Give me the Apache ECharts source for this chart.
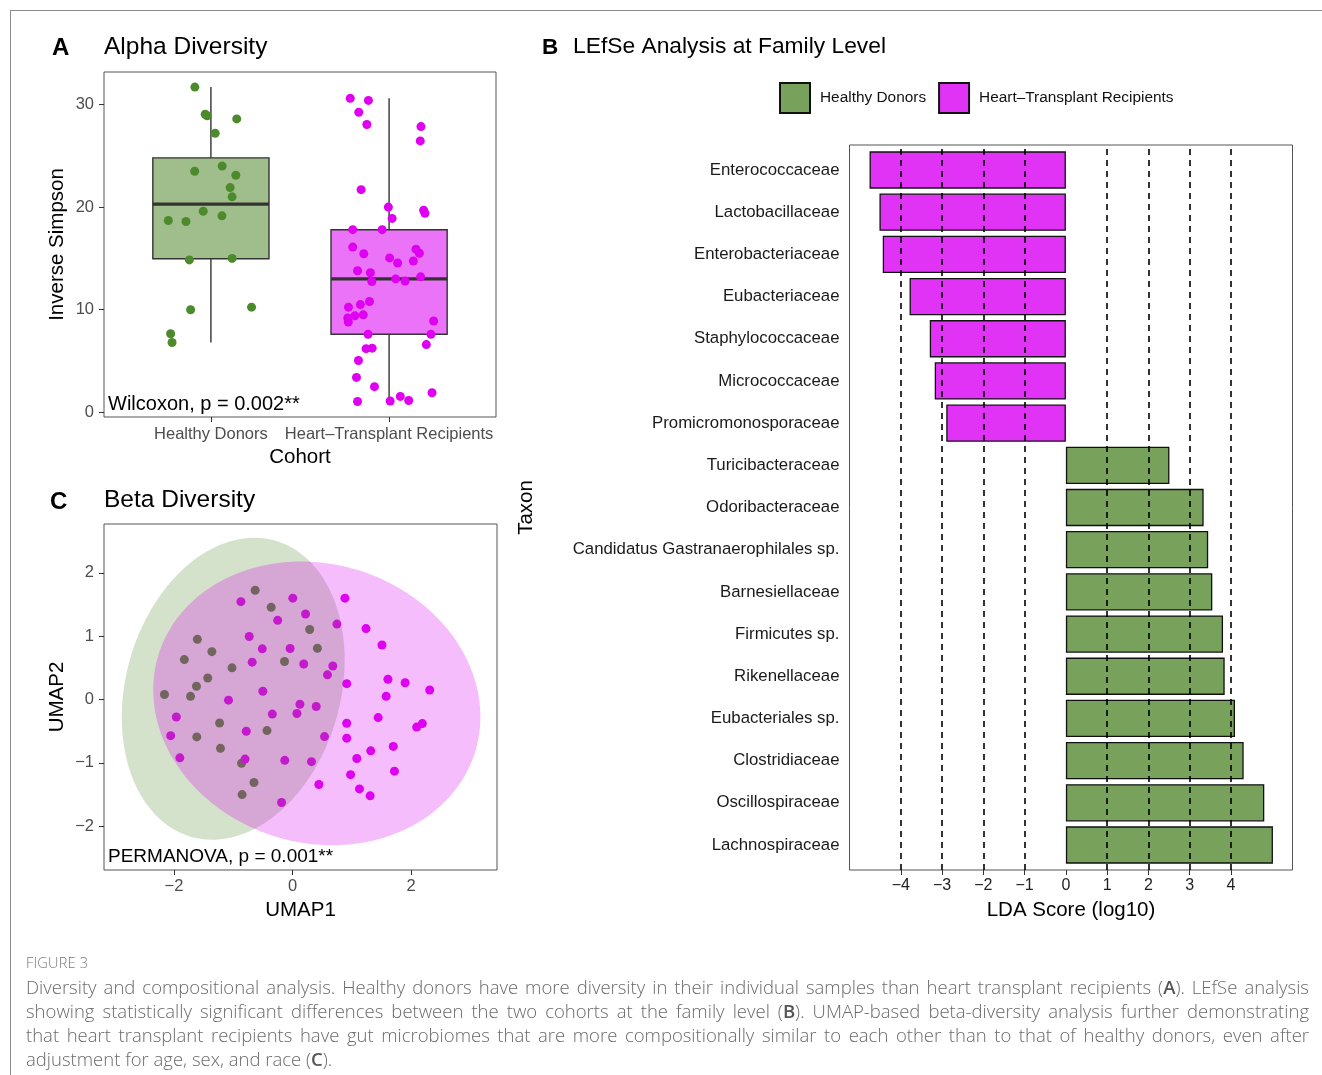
<!DOCTYPE html>
<html>
<head>
<meta charset="utf-8">
<script src="https://cdn.jsdelivr.net/npm/echarts@6/dist/echarts.min.js"></script>
<style>
html,body{margin:0;padding:0;background:#fff;width:1322px;height:1075px;overflow:hidden;}
#frame{position:absolute;left:10px;top:10px;width:1312px;height:1065px;border-top:1px solid #8c8c8c;border-left:1px solid #8c8c8c;box-sizing:border-box;}
#chart{position:absolute;left:0;top:0;width:1322px;height:1075px;}
#caption{position:absolute;left:26px;top:951px;width:1283px;font-family:'Open Sans',sans-serif;color:#6a6a6a;font-weight:300;}
#caption .fig{height:24px;line-height:24px;font-size:14.5px;letter-spacing:0.2px;color:#777;}
#caption .ln{height:24px;line-height:24px;font-size:18.5px;}
#caption .j{text-align:justify;text-align-last:justify;}
#caption b{font-weight:600;color:#555;}
</style>
</head>
<body>
<div id="frame"></div>
<div id="chart"></div>
<div id="caption">
<div class="fig">FIGURE 3</div>
<div class="ln j">Diversity and compositional analysis. Healthy donors have more diversity in their individual samples than heart transplant recipients (<b>A</b>). LEfSe analysis</div>
<div class="ln j">showing statistically significant differences between the two cohorts at the family level (<b>B</b>). UMAP-based beta-diversity analysis further demonstrating</div>
<div class="ln j">that heart transplant recipients have gut microbiomes that are more compositionally similar to each other than to that of healthy donors, even after</div>
<div class="ln">adjustment for age, sex, and race (<b>C</b>).</div>
</div>
<script>
// ---------------- DATA ----------------
const cohorts = ['Healthy Donors', 'Heart–Transplant Recipients'];

// Panel A: Inverse Simpson per sample, with horizontal jitter (category units)
const hdInvSimpson = [31.7, 29.05, 28.9, 28.6, 27.2, 23.5, 24.0, 23.1, 21.9, 21.0, 19.6, 19.15, 18.7, 18.6, 14.85, 15.0, 10.0, 10.25, 7.65, 6.8];
const hdJitter = [-0.090, -0.032, -0.021, 0.145, 0.024, -0.091, 0.063, 0.140, 0.108, 0.119, -0.043, 0.062, -0.239, -0.140, -0.121, 0.119, -0.114, 0.228, -0.226, -0.218];
const htrInvSimpson = [30.6, 30.4, 29.25, 28.05, 27.85, 26.45, 21.7, 20.0, 18.9, 19.7, 19.4, 17.8, 17.8, 16.1, 15.45, 15.9, 15.5, 15.05, 14.55, 14.75, 13.8, 13.6, 12.75, 13.0, 12.8, 13.2, 10.8, 10.5, 10.25, 9.2, 9.4, 9.5, 8.8, 8.9, 7.6, 7.6, 6.6, 6.2, 6.25, 5.05, 3.4, 2.5, 1.9, 1.05, 1.1, 1.55, 1.15];
const htrJitter = [-0.218, -0.116, -0.170, -0.125, 0.179, 0.175, -0.157, -0.004, 0.017, 0.194, 0.201, -0.204, -0.039, -0.204, -0.142, 0.151, 0.170, 0.003, 0.048, 0.136, -0.177, -0.105, -0.097, 0.037, 0.090, 0.177, -0.110, -0.161, -0.228, -0.232, -0.192, -0.145, -0.229, 0.250, -0.118, 0.235, 0.209, -0.129, -0.095, -0.172, -0.183, -0.082, 0.241, -0.177, 0.006, 0.063, 0.110];
const alphaTicks = [0, 10, 20, 30];

// Panel C: UMAP coordinates
const hdUmap1 = [-0.63, -0.36, 0.29, -1.605, -1.36, 0.42, -1.825, -1.02, -0.135, -1.43, -1.62, -2.16, -1.72, -1.23, -0.43, -1.615, -1.215, -0.86, -0.65, -0.85];
const hdUmap2 = [1.725, 1.455, 1.105, 0.95, 0.755, 0.81, 0.63, 0.50, 0.60, 0.34, 0.21, 0.08, 0.05, -0.37, -0.49, -0.59, -0.77, -1.005, -1.31, -1.50];
const htrUmap1 = [-0.87, 0.005, 0.885, 0.22, -0.25, 0.75, 1.24, -0.73, 1.51, -0.51, -0.04, -0.68, 0.19, 0.68, 0.59, 0.915, 1.61, 1.90, 2.315, -0.50, 1.58, -1.08, 0.125, 0.40, -0.34, 0.075, -1.96, 1.445, 0.915, 2.19, 2.095, -0.78, -2.055, 0.54, 0.915, 1.70, 1.32, -1.90, -0.80, -0.13, 0.32, 1.085, 1.72, 0.98, 0.445, 1.13, 1.31, -0.185];
const htrUmap2 = [1.545, 1.60, 1.60, 1.35, 1.25, 1.19, 1.12, 0.995, 0.86, 0.80, 0.805, 0.59, 0.56, 0.53, 0.39, 0.25, 0.32, 0.265, 0.15, 0.13, 0.05, -0.01, -0.075, -0.11, -0.23, -0.22, -0.275, -0.285, -0.375, -0.38, -0.435, -0.50, -0.57, -0.585, -0.61, -0.74, -0.81, -0.92, -0.94, -0.96, -0.98, -0.93, -1.13, -1.185, -1.34, -1.41, -1.52, -1.625];
// 95% ellipses: centre and axis matrix (u = cu + m11 cos t + m12 sin t ; v = cv + m21 cos t + m22 sin t)
const hdEllipseCenter = [-1.0, 0.17];
const hdEllipseAxes = [[1.88, 0.0], [0.45, 2.34]];
const htrEllipseCenter = [0.41, -0.06];
const htrEllipseAxes = [[2.76, 0.0], [-0.213, 2.228]];
const umap1Ticks = [-2, 0, 2];
const umap2Ticks = [-2, -1, 0, 1, 2];

// Panel B: LEfSe
const taxa = ['Enterococcaceae', 'Lactobacillaceae', 'Enterobacteriaceae', 'Eubacteriaceae', 'Staphylococcaceae', 'Micrococcaceae', 'Promicromonosporaceae', 'Turicibacteraceae', 'Odoribacteraceae', 'Candidatus Gastranaerophilales sp.', 'Barnesiellaceae', 'Firmicutes sp.', 'Rikenellaceae', 'Eubacteriales sp.', 'Clostridiaceae', 'Oscillospiraceae', 'Lachnospiraceae'];
const ldaScore = [-4.76, -4.52, -4.44, -3.79, -3.30, -3.18, -2.90, 2.51, 3.34, 3.45, 3.55, 3.81, 3.85, 4.10, 4.31, 4.81, 5.02];
const ldaGroup = ['HTR', 'HTR', 'HTR', 'HTR', 'HTR', 'HTR', 'HTR', 'HD', 'HD', 'HD', 'HD', 'HD', 'HD', 'HD', 'HD', 'HD', 'HD'];
const ldaRefLines = [-4, -3, -2, -1, 1, 2, 3, 4];
const ldaTicks = [-4, -3, -2, -1, 0, 1, 2, 3, 4];

// ---------------- HELPERS ----------------
const FONT = "'Liberation Sans', Arial, Helvetica, sans-serif";
const GREEN = '#4d8a2c', MAGENTA = '#df00f1';
const minus = v => String(v).replace('-', '\u2212');

function quantile(sorted, p) {
  const h = (sorted.length - 1) * p, lo = Math.floor(h), hi = Math.ceil(h);
  return sorted[lo] + (h - lo) * (sorted[hi] - sorted[lo]);
}
function boxStats(vals) {
  const s = vals.slice().sort((a, b) => a - b);
  const q1 = quantile(s, 0.25), med = quantile(s, 0.5), q3 = quantile(s, 0.75);
  const iqr = q3 - q1;
  const lw = s.find(v => v >= q1 - 1.5 * iqr);
  const hw = s.slice().reverse().find(v => v <= q3 + 1.5 * iqr);
  return [lw, q1, med, q3, hw];
}
const boxData = [[1].concat(boxStats(hdInvSimpson)), [2].concat(boxStats(htrInvSimpson))];
const boxFill = ['rgba(82,136,46,0.55)', 'rgba(217,0,242,0.55)'];

function ellipseSeries(name, center, axes, fill, z) {
  return {
    name: name, type: 'custom', xAxisIndex: 1, yAxisIndex: 1, z: z, silent: true,
    data: [[center[0], center[1]]],
    renderItem: (params, api) => {
      const pts = [];
      for (let k = 0; k < 160; k++) {
        const t = 2 * Math.PI * k / 160;
        const c = Math.cos(t), s = Math.sin(t);
        pts.push(api.coord([api.value(0) + axes[0][0] * c + axes[0][1] * s, api.value(1) + axes[1][0] * c + axes[1][1] * s]));
      }
      return { type: 'polygon', shape: { points: pts }, style: { fill: fill, stroke: null } };
    }
  };
}

const tickStyle = { lineStyle: { color: '#333', width: 1 }, length: 5 };
const labStyle = { fontFamily: FONT, color: '#4d4d4d' };
const noLine = { show: false, onZero: false };

// ---------------- CHART ----------------
const chart = echarts.init(document.getElementById('chart'), null, { renderer: 'canvas' });
const option = {
  animation: false,
  backgroundColor: 'transparent',
  textStyle: { fontFamily: FONT },
  grid: [
    { left: 104, top: 72, width: 392, height: 345, show: true, borderColor: '#555', borderWidth: 1, backgroundColor: '#fff' },
    { left: 104, top: 524, width: 393, height: 346, show: true, borderColor: '#555', borderWidth: 1, backgroundColor: '#fff' },
    { left: 849.5, top: 145, width: 443, height: 725, show: true, borderColor: '#555', borderWidth: 1, backgroundColor: '#fff' },
    { left: 849.5, top: 148.9, width: 443, height: 717.2, show: false }
  ],
  xAxis: [
    { gridIndex: 0, type: 'value', min: 0.4, max: 2.6, splitLine: { show: false }, axisLine: noLine,
      axisTick: Object.assign({ customValues: [1, 2] }, tickStyle),
      axisLabel: Object.assign({ customValues: [1, 2], formatter: v => cohorts[Math.round(v) - 1], fontSize: 16.5, margin: 9 }, labStyle),
      name: 'Cohort', nameLocation: 'middle', nameGap: 30, nameTextStyle: { fontFamily: FONT, fontSize: 20.5, color: '#000' } },
    { gridIndex: 1, type: 'value', min: -3.18, max: 3.45, splitLine: { show: false }, axisLine: noLine,
      axisTick: Object.assign({ customValues: umap1Ticks }, tickStyle),
      axisLabel: Object.assign({ customValues: umap1Ticks, formatter: minus, fontSize: 16.5, margin: 8 }, labStyle),
      name: 'UMAP1', nameLocation: 'middle', nameGap: 30, nameTextStyle: { fontFamily: FONT, fontSize: 20.5, color: '#000' } },
    { gridIndex: 2, type: 'value', min: -5.246, max: 5.494, splitLine: { show: false }, axisLine: noLine,
      axisTick: Object.assign({ customValues: ldaTicks }, tickStyle),
      axisLabel: Object.assign({ customValues: ldaTicks, formatter: minus, fontSize: 16, margin: 8 }, labStyle, { color: '#222' }),
      name: 'LDA Score (log10)', nameLocation: 'middle', nameGap: 30, nameTextStyle: { fontFamily: FONT, fontSize: 20.5, color: '#000' } },
    { gridIndex: 3, type: 'value', min: -5.246, max: 5.494, show: false, axisLine: noLine }
  ],
  yAxis: [
    { gridIndex: 0, type: 'value', min: -0.46, max: 33.17, splitLine: { show: false }, axisLine: noLine,
      axisTick: Object.assign({ customValues: alphaTicks }, tickStyle),
      axisLabel: Object.assign({ customValues: alphaTicks, fontSize: 16.5, margin: 10 }, labStyle),
      name: 'Inverse Simpson', nameLocation: 'middle', nameGap: 36, nameTextStyle: { fontFamily: FONT, fontSize: 20.5, color: '#000' } },
    { gridIndex: 1, type: 'value', min: -2.69, max: 2.77, splitLine: { show: false }, axisLine: noLine,
      axisTick: Object.assign({ customValues: umap2Ticks }, tickStyle),
      axisLabel: Object.assign({ customValues: umap2Ticks, formatter: minus, fontSize: 16.5, margin: 10 }, labStyle),
      name: 'UMAP2', nameLocation: 'middle', nameGap: 36, nameTextStyle: { fontFamily: FONT, fontSize: 20.5, color: '#000' } },
    { gridIndex: 2, type: 'value', min: 0, max: 1, show: false, axisLine: noLine },
    { gridIndex: 3, type: 'category', inverse: true, data: taxa, axisLine: noLine,
      axisTick: Object.assign({ alignWithLabel: true }, tickStyle),
      axisLabel: { fontFamily: FONT, fontSize: 16.8, color: '#1a1a1a', margin: 10, interval: 0 },
      name: 'Taxon', nameLocation: 'middle', nameGap: 313, nameTextStyle: { fontFamily: FONT, fontSize: 20.5, color: '#000' } }
  ],
  legend: {
    left: 779, top: 82, padding: 0, itemWidth: 30, itemHeight: 30, itemGap: 12, icon: 'rect', selectedMode: false,
    textStyle: { fontFamily: FONT, fontSize: 15.4, color: '#111', padding: [0, 0, 0, 5] },
    data: ['Healthy Donors', 'Heart–Transplant Recipients']
  },
  series: [
    // Panel A
    { name: 'box', type: 'custom', xAxisIndex: 0, yAxisIndex: 0, z: 2, silent: true, data: boxData,
      renderItem: (params, api) => {
        const c = api.value(0), half = 0.326;
        const lw = api.coord([c, api.value(1)]), q1c = api.coord([c, api.value(2)]);
        const q3c = api.coord([c, api.value(4)]), hw = api.coord([c, api.value(5)]);
        const bl = api.coord([c - half, api.value(2)]), tr = api.coord([c + half, api.value(4)]);
        const ml = api.coord([c - half, api.value(3)]), mr = api.coord([c + half, api.value(3)]);
        const st = { stroke: '#333', lineWidth: 1.4 };
        return { type: 'group', children: [
          { type: 'line', shape: { x1: lw[0], y1: lw[1], x2: q1c[0], y2: q1c[1] }, style: st },
          { type: 'line', shape: { x1: q3c[0], y1: q3c[1], x2: hw[0], y2: hw[1] }, style: st },
          { type: 'rect', shape: { x: bl[0], y: tr[1], width: tr[0] - bl[0], height: bl[1] - tr[1] }, style: { fill: boxFill[params.dataIndex], stroke: '#333', lineWidth: 1.4 } },
          { type: 'line', shape: { x1: ml[0], y1: ml[1], x2: mr[0], y2: mr[1] }, style: { stroke: '#333', lineWidth: 3.2 } }
        ] };
      } },
    { name: 'hdPts', type: 'scatter', xAxisIndex: 0, yAxisIndex: 0, z: 3, symbolSize: 9, itemStyle: { color: GREEN, opacity: 1 },
      data: hdInvSimpson.map((v, i) => [1 + hdJitter[i], v]) },
    { name: 'htrPts', type: 'scatter', xAxisIndex: 0, yAxisIndex: 0, z: 3, symbolSize: 9, itemStyle: { color: MAGENTA, opacity: 1 },
      data: htrInvSimpson.map((v, i) => [2 + htrJitter[i], v]) },
    // Panel C
    { name: 'hdUmap', type: 'scatter', xAxisIndex: 1, yAxisIndex: 1, z: 2, symbolSize: 9, itemStyle: { color: GREEN, opacity: 1 },
      data: hdUmap1.map((v, i) => [v, hdUmap2[i]]) },
    { name: 'htrUmap', type: 'scatter', xAxisIndex: 1, yAxisIndex: 1, z: 2, symbolSize: 9, itemStyle: { color: MAGENTA, opacity: 1 },
      data: htrUmap1.map((v, i) => [v, htrUmap2[i]]) },
    ellipseSeries('hdEllipse', hdEllipseCenter, hdEllipseAxes, 'rgba(82,136,46,0.25)', 3),
    ellipseSeries('htrEllipse', htrEllipseCenter, htrEllipseAxes, 'rgba(222,0,242,0.26)', 4),
    // Panel B reference lines
    { name: 'refLines', type: 'line', xAxisIndex: 2, yAxisIndex: 2, z: 1, data: [], silent: true,
      markLine: { silent: true, symbol: ['none', 'none'], label: { show: false }, animation: false,
        lineStyle: { color: '#000', type: [6, 5], width: 1.6 },
        data: ldaRefLines.map(v => ({ xAxis: v })) } },
    // Panel B bars
    { name: 'Healthy Donors', type: 'bar', xAxisIndex: 3, yAxisIndex: 3, z: 3, barGap: '-100%', barCategoryGap: '11.6%',
      itemStyle: { color: 'rgba(82,136,46,0.78)', borderColor: '#111', borderWidth: 1.3 },
      data: taxa.map((t, i) => ldaGroup[i] === 'HD' ? ldaScore[i] : '-') },
    { name: 'Heart–Transplant Recipients', type: 'bar', xAxisIndex: 3, yAxisIndex: 3, z: 3, barGap: '-100%', barCategoryGap: '11.6%',
      itemStyle: { color: 'rgba(217,0,242,0.8)', borderColor: '#111', borderWidth: 1.3 },
      data: taxa.map((t, i) => ldaGroup[i] === 'HTR' ? ldaScore[i] : '-') }
  ],
  graphic: [
    { type: 'text', x: 52, y: 48, style: { text: 'A', font: 'bold 24px ' + FONT, fill: '#000', verticalAlign: 'middle' } },
    { type: 'text', x: 104, y: 47, style: { text: 'Alpha Diversity', font: '24.5px ' + FONT, fill: '#000', verticalAlign: 'middle' } },
    { type: 'text', x: 542, y: 48, style: { text: 'B', font: 'bold 22.5px ' + FONT, fill: '#000', verticalAlign: 'middle' } },
    { type: 'text', x: 573, y: 47, style: { text: 'LEfSe Analysis at Family Level', font: '22.8px ' + FONT, fill: '#000', verticalAlign: 'middle' } },
    { type: 'text', x: 50, y: 502, style: { text: 'C', font: 'bold 24px ' + FONT, fill: '#000', verticalAlign: 'middle' } },
    { type: 'text', x: 104, y: 500, style: { text: 'Beta Diversity', font: '24.5px ' + FONT, fill: '#000', verticalAlign: 'middle' } },
    { type: 'text', x: 108, y: 404, z: 10, style: { text: 'Wilcoxon, p = 0.002**', font: '20px ' + FONT, fill: '#000', verticalAlign: 'middle' } },
    { type: 'text', x: 108, y: 857, z: 10, style: { text: 'PERMANOVA, p = 0.001**', font: '19px ' + FONT, fill: '#000', verticalAlign: 'middle' } }
  ]
};
chart.setOption(option);
</script>
</body>
</html>
